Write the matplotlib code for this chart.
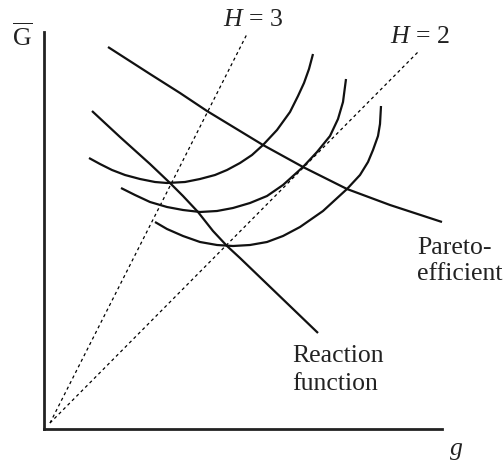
import matplotlib
matplotlib.use("Agg")
import matplotlib.pyplot as plt

plt.rcParams['font.family'] = ['Liberation Serif', 'DejaVu Serif']
plt.rcParams['mathtext.fontset'] = 'custom'
plt.rcParams['mathtext.rm'] = 'Liberation Serif'
plt.rcParams['mathtext.it'] = 'Liberation Serif:italic'

# curves (g on x, G-bar on y)
pareto_x = [64, 106, 136, 163, 191, 219, 259, 303, 346, 398]
pareto_y = [382, 355, 336, 318, 301, 284, 262, 240, 224, 207]

reaction_x = [48, 76, 106, 126, 139, 154, 169, 183, 196, 274]
reaction_y = [318, 292, 265, 246, 233, 217, 198, 183, 171, 96]

ic1_x = [45, 56, 68, 81, 96, 111, 123, 141, 156, 171, 183, 196, 208, 219, 233, 246, 254, 260, 265, 269]
ic1_y = [271, 265, 259, 254, 250, 247, 246, 247, 250, 254, 259, 266, 274, 284, 299, 317, 333, 346, 360, 375]

ic2_x = [77, 91, 106, 123, 139, 156, 173, 189, 206, 223, 239, 259, 273, 286, 294, 299, 302]
ic2_y = [241, 234, 227, 222, 219, 217, 218, 221, 226, 233, 244, 262, 277, 293, 310, 327, 350]

ic3_x = [111, 123, 139, 156, 173, 189, 206, 223, 239, 256, 279, 303, 316, 324, 329, 334, 336, 337]
ic3_y = [207, 200, 193, 187, 184, 183, 184, 187, 193, 202, 218, 240, 254, 267, 279, 293, 305, 323]

h3_x = [6, 203]
h3_y = [6, 395]
h2_x = [6, 374]
h2_y = [6, 377]

fig = plt.figure(figsize=(5.04, 4.64), dpi=100)
ax = fig.add_axes([44 / 504, 34 / 464, 398 / 504, 397 / 464])
ax.set_xlim(0, 398)
ax.set_ylim(0, 397)
for s in ['top', 'right']:
    ax.spines[s].set_visible(False)
for s in ['left', 'bottom']:
    ax.spines[s].set_linewidth(2.0)
    ax.spines[s].set_color('#222222')
ax.set_xticks([])
ax.set_yticks([])

dot = dict(color='black', lw=0.9, linestyle=(0, (2.5, 2.5)))
ax.plot(h3_x, h3_y, **dot)
ax.plot(h2_x, h2_y, **dot)

solid = dict(color='#111111', lw=1.6, solid_joinstyle='round', solid_capstyle='butt')
for xs, ys in [(pareto_x, pareto_y), (reaction_x, reaction_y),
               (ic1_x, ic1_y), (ic2_x, ic2_y), (ic3_x, ic3_y)]:
    ax.plot(xs, ys, clip_on=False, **solid)

fs = 18.5
tk = dict(fontsize=fs, color='#222222', clip_on=False)
ax.text(209, 404, r'$H$ = 3', ha='center', va='baseline', **tk)
ax.text(376, 387, r'$H$ = 2', ha='center', va='baseline', **tk)
ax.text(-22, 384, r'$\overline{\mathrm{G}}$', ha='center', va='baseline', **tk)
ax.text(373, 176, 'Pareto-', ha='left', va='baseline', **tk)
ax.text(373, 150, 'efficient', ha='left', va='baseline', **tk)
ax.text(248, 68, 'Reaction', ha='left', va='baseline', **tk)
ax.text(248, 40, 'function', ha='left', va='baseline', **tk)
ax.text(412, -25, r'$g$', ha='center', va='baseline', **tk)

fig.savefig('out.png', dpi=100)
